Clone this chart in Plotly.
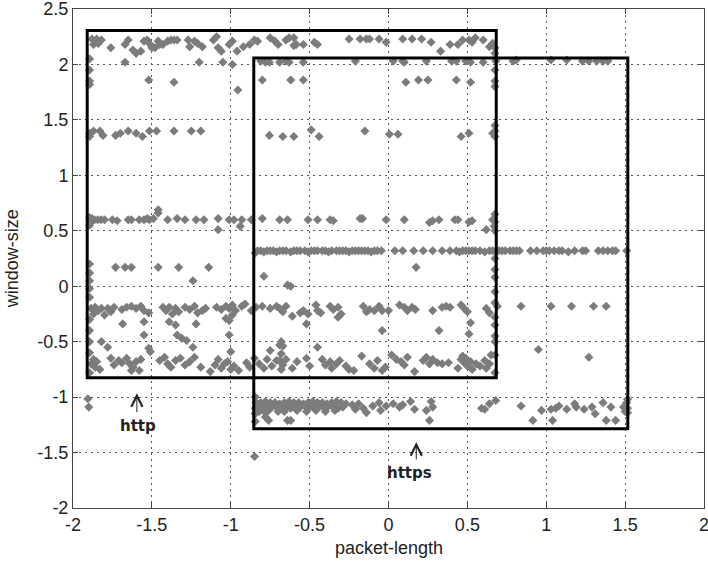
import plotly.graph_objects as go

# ---- observations: (packet-length, window-size), grouped by horizontal band ----
band_top = [
    (-1.88, 2.23), (-1.87, 2.18), (-1.85, 2.23), (-1.84, 2.19), (-1.82, 2.22), (-1.76, 2.15),
    (-1.67, 2.18), (-1.65, 2.22), (-1.62, 2.13), (-1.60, 2.10), (-1.57, 2.12), (-1.55, 2.21),
    (-1.53, 2.22), (-1.51, 2.18), (-1.50, 2.15), (-1.48, 2.15), (-1.46, 2.21), (-1.45, 2.18),
    (-1.43, 2.18), (-1.40, 2.21), (-1.38, 2.22), (-1.36, 2.22), (-1.34, 2.22), (-1.27, 2.22),
    (-1.26, 2.16), (-1.23, 2.21), (-1.21, 2.19), (-1.18, 2.16), (-1.11, 2.22), (-1.09, 2.25),
    (-1.08, 2.15), (-1.06, 2.12), (-1.01, 2.18), (-0.99, 2.21), (-0.96, 2.12), (-0.92, 2.16),
    (-0.88, 2.18), (-0.85, 2.22), (-0.83, 2.21), (-0.75, 2.24), (-0.72, 2.21), (-0.70, 2.18),
    (-0.65, 2.22), (-0.63, 2.24), (-0.60, 2.24), (-0.60, 2.17), (-0.585, 2.18), (-0.54, 2.18),
    (-0.47, 2.20), (-0.45, 2.18), (-0.25, 2.23), (-0.18, 2.23), (-0.14, 2.23), (-0.12, 2.23),
    (-0.06, 2.23), (-0.015, 2.20), (0.09, 2.23), (0.15, 2.23), (0.21, 2.23), (0.27, 2.20),
    (0.33, 2.12), (0.39, 2.18), (0.44, 2.18), (0.47, 2.22), (0.51, 2.22), (0.53, 2.20),
    (0.55, 2.24), (0.60, 2.22), (0.64, 2.16), (0.66, 2.19),
]

band_202 = [
    (-1.67, 2.02), (-1.20, 2.02), (-1.05, 2.02), (-0.99, 2.00), (-0.81, 2.03), (-0.78, 2.02),
    (-0.755, 2.02), (-0.69, 2.02), (-0.65, 2.03), (-0.63, 2.02), (-0.54, 2.02), (-0.21, 2.03),
    (0.03, 2.03), (0.09, 2.03), (0.10, 2.02), (0.24, 2.03), (0.40, 2.03), (0.43, 2.03),
    (0.49, 2.03), (0.52, 2.02), (0.60, 2.02), (0.68, 2.03), (0.79, 2.03), (0.81, 2.04),
    (1.03, 2.04), (1.13, 2.04), (1.23, 2.03), (1.27, 2.03), (1.32, 2.03), (1.36, 2.03),
    (1.39, 2.03),
]

band_185 = [
    (-1.52, 1.86), (-1.36, 1.84), (-0.955, 1.77), (-0.80, 1.86), (-0.62, 1.86), (-0.54, 1.86),
    (0.11, 1.84), (0.19, 1.86), (0.25, 1.86), (0.43, 1.86), (0.52, 1.84),
]

band_138 = [
    (-1.87, 1.40), (-1.83, 1.40), (-1.81, 1.36), (-1.73, 1.36), (-1.70, 1.38), (-1.65, 1.40),
    (-1.60, 1.38), (-1.56, 1.35), (-1.515, 1.40), (-1.47, 1.40), (-1.36, 1.40), (-1.25, 1.40),
    (-1.19, 1.40), (-0.755, 1.36), (-0.67, 1.35), (-0.60, 1.35), (-0.49, 1.41), (-0.44, 1.35),
    (-0.15, 1.40), (0.006, 1.37), (0.06, 1.37), (0.46, 1.35), (0.51, 1.38), (0.66, 1.38),
]

band_060 = [
    (-1.885, 0.58), (-1.88, 0.61), (-1.864, 0.60), (-1.843, 0.60), (-1.822, 0.60), (-1.80, 0.60),
    (-1.75, 0.60), (-1.72, 0.59), (-1.65, 0.60), (-1.63, 0.60), (-1.58, 0.60), (-1.55, 0.60),
    (-1.53, 0.61), (-1.515, 0.60), (-1.49, 0.61), (-1.46, 0.69), (-1.46, 0.66), (-1.40, 0.60),
    (-1.34, 0.61), (-1.29, 0.60), (-1.22, 0.60), (-1.17, 0.60), (-1.08, 0.61), (-1.01, 0.60),
    (-0.98, 0.60), (-0.93, 0.60), (-0.87, 0.60), (-0.80, 0.61), (-0.69, 0.60), (-0.64, 0.60),
    (-1.08, 0.51), (-0.94, 0.54), (-0.51, 0.60), (-0.45, 0.60), (-0.37, 0.60), (-0.35, 0.59),
    (-0.18, 0.61), (-0.165, 0.61), (-0.015, 0.60), (0.10, 0.60), (0.26, 0.575), (0.28, 0.59),
    (0.32, 0.60), (0.42, 0.60), (0.44, 0.60), (0.51, 0.58), (0.53, 0.59), (0.62, 0.51),
    (0.66, 0.60), (0.67, 0.54),
]

band_032 = [
    (-0.83, 0.32), (-0.81, 0.32), (-0.79, 0.31), (-0.77, 0.32), (-0.75, 0.32), (-0.73, 0.32),
    (-0.71, 0.31), (-0.69, 0.32), (-0.67, 0.32), (-0.65, 0.32), (-0.62, 0.31), (-0.60, 0.32),
    (-0.58, 0.32), (-0.56, 0.32), (-0.53, 0.32), (-0.51, 0.31), (-0.49, 0.32), (-0.47, 0.32),
    (-0.45, 0.32), (-0.42, 0.32), (-0.40, 0.32), (-0.38, 0.31), (-0.36, 0.32), (-0.33, 0.32),
    (-0.31, 0.32), (-0.29, 0.32), (-0.27, 0.32), (-0.25, 0.31), (-0.23, 0.32), (-0.21, 0.32),
    (-0.19, 0.32), (-0.17, 0.32), (-0.15, 0.32), (-0.13, 0.32), (-0.11, 0.31), (-0.09, 0.32),
    (-0.07, 0.32), (-0.045, 0.32), (0.04, 0.32), (0.09, 0.32), (0.16, 0.32), (0.22, 0.32),
    (0.28, 0.32), (0.34, 0.32), (0.39, 0.32), (0.43, 0.32), (0.45, 0.31), (0.47, 0.32),
    (0.49, 0.32), (0.51, 0.32), (0.53, 0.32), (0.55, 0.32), (0.58, 0.32), (0.61, 0.31),
    (0.64, 0.32), (0.66, 0.32), (0.68, 0.32), (0.70, 0.32), (0.72, 0.32), (0.74, 0.32),
    (0.77, 0.32), (0.79, 0.32), (0.81, 0.32), (0.83, 0.32), (0.90, 0.32), (0.94, 0.32),
    (0.98, 0.32), (1.00, 0.32), (1.02, 0.32), (1.05, 0.32), (1.08, 0.32), (1.10, 0.32),
    (1.14, 0.31), (1.18, 0.32), (1.23, 0.32), (1.25, 0.32), (1.33, 0.32), (1.36, 0.32),
    (1.39, 0.32), (1.42, 0.32), (1.44, 0.32), (1.51, 0.32),
]

band_017 = [
    (-1.73, 0.17), (-1.67, 0.17), (-1.63, 0.17), (-1.46, 0.17), (-1.33, 0.17), (-1.14, 0.17),
    (-1.24, 0.05), (-0.79, 0.09), (-0.64, 0.01), (-0.62, 0.00), (0.175, 0.17),
]

band_m020 = [
    (-1.885, -0.20), (-1.87, -0.25), (-1.86, -0.19), (-1.84, -0.22), (-1.82, -0.20), (-1.80, -0.26),
    (-1.78, -0.20), (-1.76, -0.23), (-1.74, -0.19), (-1.69, -0.21), (-1.66, -0.19), (-1.63, -0.18),
    (-1.60, -0.20), (-1.57, -0.18), (-1.55, -0.22), (-1.52, -0.24), (-1.43, -0.19), (-1.41, -0.22),
    (-1.39, -0.19), (-1.37, -0.25), (-1.35, -0.20), (-1.33, -0.23), (-1.29, -0.19), (-1.26, -0.21),
    (-1.23, -0.18), (-1.21, -0.24), (-1.18, -0.22), (-1.16, -0.20), (-1.09, -0.19), (-1.06, -0.21),
    (-1.03, -0.18), (-1.01, -0.20), (-0.99, -0.17), (-0.97, -0.22), (-0.93, -0.18), (-0.91, -0.16),
    (-0.87, -0.22), (-0.84, -0.19), (-0.80, -0.18), (-0.75, -0.20), (-0.71, -0.18), (-0.67, -0.23),
    (-0.69, -0.20), (-0.65, -0.18), (-0.61, -0.27), (-0.56, -0.24), (-0.54, -0.22), (-0.51, -0.25),
    (-0.46, -0.17), (-0.45, -0.22), (-0.43, -0.24), (-0.37, -0.18), (-0.35, -0.21), (-0.32, -0.19),
    (-0.30, -0.25), (-0.16, -0.18), (-0.14, -0.23), (-0.12, -0.21), (-0.09, -0.22), (-0.06, -0.18),
    (-0.04, -0.22), (0.00, -0.22), (0.07, -0.17), (0.10, -0.19), (0.12, -0.22), (0.15, -0.19),
    (0.17, -0.21), (0.28, -0.22), (0.34, -0.19), (0.365, -0.18), (0.39, -0.19), (0.46, -0.17),
    (0.48, -0.20), (0.50, -0.23), (0.62, -0.20), (0.64, -0.24),
    (0.69, -0.18), (0.84, -0.18), (1.03, -0.18), (1.16, -0.18), (1.30, -0.18), (1.38, -0.18),
]

band_m045 = [
    (-1.685, -0.34), (-1.55, -0.32), (-1.39, -0.32), (-1.35, -0.35), (-1.22, -0.34), (-1.03, -0.29),
    (-0.99, -0.26), (-1.01, -0.31), (-0.52, -0.34), (-0.32, -0.28), (-0.04, -0.40), (0.32, -0.40),
    (0.51, -0.43), (0.52, -0.33), (-1.55, -0.44), (-1.34, -0.44), (-1.31, -0.47), (-1.28, -0.49),
    (-1.01, -0.44), (-1.82, -0.50), (-0.68, -0.50), (-0.69, -0.53), (-0.67, -0.54), (-0.45, -0.55),
    (-1.78, -0.55), (-1.52, -0.56), (-1.51, -0.59), (-1.24, -0.55), (-1.00, -0.59), (-0.75, -0.58),
    (-0.68, -0.61), (0.95, -0.57), (1.27, -0.64),
]

band_m070 = [
    (-1.885, -0.70), (-1.87, -0.66), (-1.86, -0.73), (-1.85, -0.68), (-1.83, -0.75), (-1.76, -0.65),
    (-1.74, -0.71), (-1.71, -0.67), (-1.69, -0.69), (-1.66, -0.65), (-1.64, -0.70), (-1.62, -0.73),
    (-1.60, -0.68), (-1.58, -0.76), (-1.57, -0.66), (-1.63, -0.76), (-1.45, -0.67), (-1.42, -0.64),
    (-1.40, -0.70), (-1.38, -0.73), (-1.35, -0.67), (-1.32, -0.65), (-1.29, -0.71), (-1.26, -0.68),
    (-1.23, -0.64), (-1.19, -0.73), (-1.13, -0.77), (-1.10, -0.71), (-1.08, -0.66), (-1.06, -0.74),
    (-1.04, -0.70), (-1.02, -0.68), (-1.00, -0.75), (-0.98, -0.72), (-0.95, -0.76), (-0.90, -0.69),
    (-0.88, -0.73), (-0.85, -0.65), (-0.82, -0.70), (-0.79, -0.74), (-0.77, -0.66), (-0.74, -0.72),
    (-0.71, -0.67), (-0.68, -0.75), (-0.69, -0.67), (-0.67, -0.71), (-0.65, -0.66), (-0.61, -0.74),
    (-0.58, -0.68), (-0.52, -0.65), (-0.50, -0.72), (-0.42, -0.66), (-0.40, -0.71), (-0.37, -0.68),
    (-0.36, -0.74), (-0.33, -0.70), (-0.31, -0.67), (-0.27, -0.72), (-0.25, -0.75), (-0.22, -0.76),
    (-0.17, -0.63), (-0.12, -0.70), (-0.09, -0.74), (-0.07, -0.67), (-0.04, -0.76), (-0.02, -0.73),
    (0.02, -0.62), (0.05, -0.66), (0.08, -0.68), (0.10, -0.71), (0.12, -0.64), (0.165, -0.77),
    (0.22, -0.67), (0.24, -0.64), (0.26, -0.70), (0.28, -0.66), (0.31, -0.69), (0.34, -0.70),
    (0.38, -0.69), (0.44, -0.74), (0.46, -0.66), (0.47, -0.63), (0.48, -0.69), (0.49, -0.65),
    (0.50, -0.72), (0.52, -0.68), (0.53, -0.75), (0.555, -0.70), (0.58, -0.72), (0.61, -0.67),
    (0.62, -0.74), (0.64, -0.70), (0.65, -0.62),
]

band_m110 = [
    (-0.84, -1.05), (-0.81, -1.05), (-0.78, -1.04), (-0.75, -1.05), (-0.72, -1.05), (-0.69, -1.06),
    (-0.66, -1.05), (-0.63, -1.04), (-0.60, -1.05), (-0.57, -1.05), (-0.54, -1.06), (-0.51, -1.05),
    (-0.48, -1.04), (-0.45, -1.05), (-0.42, -1.05), (-0.39, -1.06), (-0.36, -1.05), (-0.33, -1.04),
    (-0.30, -1.05), (-0.27, -1.06),
    (-0.83, -1.09), (-0.80, -1.09), (-0.77, -1.10), (-0.74, -1.09), (-0.71, -1.09), (-0.68, -1.08),
    (-0.65, -1.09), (-0.62, -1.10), (-0.59, -1.09), (-0.56, -1.09), (-0.53, -1.08), (-0.50, -1.09),
    (-0.47, -1.10), (-0.44, -1.09), (-0.41, -1.09), (-0.38, -1.08), (-0.35, -1.09), (-0.32, -1.10),
    (-0.29, -1.09),
    (-0.82, -1.13), (-0.78, -1.14), (-0.76, -1.12), (-0.70, -1.13), (-0.66, -1.13), (-0.58, -1.12),
    (-0.52, -1.13), (-0.46, -1.12), (-0.40, -1.13), (-0.34, -1.12),
    (-0.78, -1.18), (-0.76, -1.21), (-0.64, -1.21), (-0.62, -1.21),
    (-0.23, -1.07), (-0.21, -1.11), (-0.19, -1.06), (-0.16, -1.10), (-0.14, -1.14), (-0.10, -1.08),
    (-0.06, -1.05), (-0.05, -1.12), (-0.015, -1.08), (0.03, -1.06), (0.07, -1.09), (0.09, -1.07),
    (0.14, -1.04), (0.165, -1.11), (0.24, -1.12), (0.26, -1.21), (0.28, -1.09), (0.27, -1.04),
    (0.59, -1.10), (0.61, -1.11), (0.64, -1.06), (0.68, -1.03), (0.84, -1.08), (0.915, -1.21),
    (0.97, -1.12), (1.03, -1.11), (1.04, -1.21), (1.06, -1.10), (1.08, -1.08), (1.13, -1.11),
    (1.18, -1.06), (1.19, -1.09), (1.24, -1.11), (1.29, -1.09), (1.31, -1.15), (1.36, -1.05),
    (1.38, -1.21), (1.41, -1.09), (1.44, -1.21), (1.49, -1.09), (1.51, -1.05), (1.50, -1.13),
]

edge_points = [
    (-1.895, 2.05), (-1.895, 1.95), (-1.895, 1.85), (-1.895, 1.82), (-1.895, 1.38), (-1.895, 1.35),
    (-1.895, 0.62), (-1.895, 0.55), (-1.895, 0.20), (-1.895, 0.12), (-1.895, 0.05), (-1.895, -0.02),
    (-1.895, -0.10), (-1.895, -0.30), (-1.895, -0.40), (-1.895, -0.50), (-1.895, -0.60),
    (-1.895, -0.78),
    (0.675, 2.15), (0.675, 2.10), (0.675, 1.95), (0.675, 1.85), (0.675, 1.80), (0.675, 1.45),
    (0.675, 1.40), (0.675, 1.35), (0.675, 0.65), (0.675, 0.58), (0.675, 0.50), (0.675, 0.25),
    (0.675, 0.15), (0.675, 0.08), (0.675, -0.05), (0.675, -0.15), (0.675, -0.28), (0.675, -0.35),
    (0.675, -0.45), (0.675, -0.50), (0.675, -0.62), (0.675, -0.78),
    (-0.845, 0.30), (-0.845, -1.00), (-0.845, -1.10), (-0.845, -1.15), (-0.845, -1.22),
    (1.515, -1.02), (1.515, -1.10), (1.515, -1.14),
]

outliers = [(-1.906, -1.015), (-1.90, -1.09), (-0.849, -1.536)]

# Cluster boxes: [x0, x1, y0, y1]
http_box = [-1.91, 0.683, -0.825, 2.305]
https_box = [-0.854, 1.517, -1.286, 2.057]

tick_vals_x = [-2, -1.5, -1, -0.5, 0, 0.5, 1, 1.5, 2]
tick_text_x = ["-2", "-1.5", "-1", "-0.5", "0", "0.5", "1", "1.5", "2"]
tick_vals_y = [-2, -1.5, -1, -0.5, 0, 0.5, 1, 1.5, 2, 2.5]
tick_text_y = ["-2", "-1.5", "-1", "-0.5", "0", "0.5", "1", "1.5", "2", "2.5"]

groups = [band_top, band_202, band_185, band_138, band_060, band_032, band_017,
          band_m020, band_m045, band_m070, band_m110, edge_points, outliers]
xs = [p[0] for g in groups for p in g]
ys = [p[1] for g in groups for p in g]

fig = go.Figure()
fig.add_trace(go.Scatter(
    x=xs, y=ys, mode="markers",
    marker=dict(symbol="diamond", size=7, color="#7c7c7c", line=dict(width=0)),
    hoverinfo="skip", showlegend=False,
))

for box in (http_box, https_box):
    fig.add_shape(type="rect", xref="x", yref="y",
                  x0=box[0], x1=box[1], y0=box[2], y1=box[3],
                  line=dict(color="black", width=3), layer="above")

label_font = dict(family="DejaVu Sans", size=15, color="#222222")
# cluster labels with upward arrows
fig.add_annotation(x=-1.595, y=-0.965, ax=-1.595, ay=-1.15, xref="x", yref="y",
                   axref="x", ayref="y", text="", showarrow=True,
                   arrowhead=5, arrowsize=2.2, arrowwidth=1, arrowcolor="#222222")
fig.add_annotation(x=-1.585, y=-1.26, xref="x", yref="y", text="<b>http</b>",
                   showarrow=False, font=label_font)
fig.add_annotation(x=0.176, y=-1.406, ax=0.176, ay=-1.575, xref="x", yref="y",
                   axref="x", ayref="y", text="", showarrow=True,
                   arrowhead=5, arrowsize=2.2, arrowwidth=1, arrowcolor="#222222")
fig.add_annotation(x=0.13, y=-1.68, xref="x", yref="y", text="<b>https</b>",
                   showarrow=False, font=label_font)

axis_font = dict(family="Liberation Sans", size=18, color="#222222")
fig.add_annotation(x=0.5, y=-0.08, xref="paper", yref="paper", text="packet-length",
                   showarrow=False, font=axis_font, yanchor="middle")
fig.add_annotation(x=-0.097, y=0.5, xref="paper", yref="paper", text="window-size",
                   showarrow=False, font=axis_font, textangle=-90, xanchor="center")

common_axis = dict(
    showgrid=True, gridcolor="#555555", griddash="2px,4px", gridwidth=1,
    zeroline=False, showline=True, linecolor="#444444", linewidth=1, mirror="ticks",
    ticks="inside", ticklen=5, tickcolor="#444444", ticklabeloverflow="allow",
    automargin=False,
    tickfont=dict(family="Liberation Sans", size=18, color="#222222"),
)
fig.update_xaxes(range=[-2, 2], tickvals=tick_vals_x, ticktext=tick_text_x, **common_axis)
fig.update_yaxes(range=[-2, 2.5], tickvals=tick_vals_y, ticktext=tick_text_y, **common_axis)

fig.update_layout(
    width=708, height=566,
    margin=dict(l=73, r=4, t=9, b=58, autoexpand=False),
    paper_bgcolor="white", plot_bgcolor="white",
    showlegend=False,
)

fig.write_html("out.html")
